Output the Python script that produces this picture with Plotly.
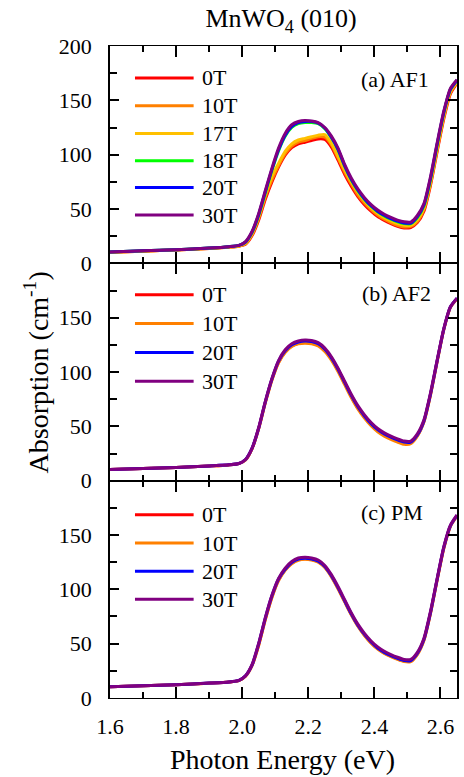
import plotly.graph_objects as go
from plotly.subplots import make_subplots

# ---------------- data ----------------
energy = [1.60, 1.70, 1.80, 1.90, 1.96, 1.99, 2.01, 2.03, 2.05, 2.07, 2.09, 2.11, 2.13,
          2.15, 2.17, 2.19, 2.21, 2.23, 2.25, 2.27, 2.29, 2.31, 2.33, 2.35, 2.37, 2.39,
          2.41, 2.43, 2.45, 2.47, 2.49, 2.51, 2.53, 2.55, 2.57, 2.59, 2.61, 2.63, 2.65]

# (a) AF1
a_0T = [10.2, 11.2, 12.3, 13.7, 14.9, 15.8, 17.5, 25.5, 40, 59, 75, 88.5, 99.5, 106.5, 110, 111.5,
        113, 114.5, 114, 107, 95, 82, 71, 61.5, 54, 48, 43, 39.5, 36.5, 34, 32.5, 33, 37.5, 48,
        72, 103, 133, 156, 166]
a_10T = [10.2, 11.2, 12.3, 13.7, 14.9, 15.9, 18, 26.5, 41.5, 61, 77, 90, 101, 108, 111.5, 113,
         115, 116.5, 116, 109, 97, 84, 73, 63, 55.5, 49.5, 44.5, 40.5, 37.5, 35, 33.5, 34, 38.5,
         49.5, 73.5, 104.5, 134.5, 157, 166.5]
a_17T = [10.3, 11.3, 12.4, 13.8, 15.0, 16.0, 18.5, 27.5, 43, 63, 80, 92, 103, 110, 113.5, 115,
         116.5, 118, 118.5, 110.5, 98.5, 86, 75, 65.5, 57.5, 51, 46, 42, 39, 36.5, 35, 35, 40,
         51, 75, 106, 136, 158, 167]
a_18T = [10.5, 11.5, 12.6, 14.0, 15.3, 16.5, 19.5, 28.5, 44.5, 65, 85.5, 103.5, 117, 125, 128.5,
         129.5, 129.5, 128.5, 124, 115.5, 104.5, 89.5, 77, 67, 59, 52.5, 47.5, 43.7, 40.7,
         38.3, 36.7, 36.5, 42, 53, 77.5, 109, 138.5, 160, 168.5]
a_20T = [10.5, 11.5, 12.6, 14.0, 15.3, 16.5, 19.5, 29, 45, 66, 86.5, 104.5, 118, 126, 129.5,
         130.5, 130.5, 129, 124.5, 116, 105, 90, 77.5, 67.5, 59.5, 53, 48, 44.2, 41.2, 38.8,
         37.2, 37, 43, 54, 78.5, 110, 139, 160, 168.5]
a_30T = [10.5, 11.5, 12.6, 14.0, 15.3, 16.5, 20, 29.5, 46, 67, 87.5, 106, 119.5, 127.5, 130.5,
         131.5, 131, 129.5, 125, 117, 106, 91, 78.5, 68.5, 60.5, 54, 49, 45.2, 42.2, 39.8, 38.2,
         38, 44, 55, 80, 111, 140, 161, 169]

# (b) AF2
b_0T = [10.2, 11.1, 12.1, 13.5, 14.5, 15.7, 19, 29.5, 48, 72, 93, 109, 118.5, 124, 126.5, 127.5,
        127, 125, 120, 112, 101.5, 89.5, 77.5, 67, 58.5, 51.5, 46, 42, 39, 36.5, 34.5, 35, 41.5,
        54.5, 79.5, 110, 139, 159.5, 167.5]
b_10T = [10.2, 11.1, 12.1, 13.5, 14.5, 15.7, 19, 29.5, 48, 71.5, 92.5, 108.5, 118, 123.5, 126,
         126.5, 126, 124, 119, 111, 100.5, 88.5, 76.5, 66, 57.5, 50.5, 45, 41, 38, 35.5, 33.5,
         34, 41, 54, 79, 109.5, 139, 159.5, 167.5]
b_20T = [10.3, 11.2, 12.2, 13.6, 14.6, 15.8, 19.5, 30, 48.5, 72.5, 93.5, 110, 119.5, 125, 127.5,
         128.5, 128, 126, 121, 113, 102.5, 90.5, 78.5, 68, 59.5, 52.5, 47, 43, 40, 37.5, 35.5,
         35.5, 42, 55, 80, 110.5, 139.5, 160, 168]
b_30T = [10.3, 11.2, 12.2, 13.6, 14.6, 15.8, 19.5, 30, 49, 73, 94, 110.5, 120.5, 126, 128.5,
         129.5, 129, 127, 122, 114, 103.5, 91.5, 79.5, 69, 60.5, 53.5, 48, 44, 41, 38.5, 36.5,
         36.5, 43, 56, 81, 111, 140, 160, 168]

# (c) PM
c_0T = [10.3, 11.2, 12.2, 13.6, 14.7, 16.0, 20, 30, 49, 72.5, 93, 108.5, 118, 124, 127.3, 128.1,
        127.4, 125.5, 120.5, 112, 101, 89, 77, 66.5, 58, 51, 45.5, 41.5, 38.5, 36, 34, 34, 40.5,
        53.5, 78.5, 109, 138, 158, 167.5]
c_10T = [10.3, 11.2, 12.2, 13.6, 14.7, 16.0, 20, 30, 48.5, 72, 92.5, 108, 117.5, 123.6, 126.8,
         127.6, 126.9, 125, 120, 111.5, 100.5, 88.5, 76.5, 66, 57.5, 50.5, 45, 41, 38, 35.5,
         33.5, 33.5, 40, 53, 78, 108.5, 137.5, 158, 167.5]
c_20T = [10.4, 11.3, 12.3, 13.7, 14.8, 16.3, 20.5, 30.5, 50, 73.5, 94, 109.5, 118.5, 124.6,
         127.8, 128.6, 127.9, 126, 121, 112.5, 101.6, 89.5, 77.5, 67, 58.5, 51.5, 46, 42, 39,
         36.5, 34.5, 34.5, 41, 54, 79, 109.5, 138.5, 158.5, 168]
c_30T = [10.4, 11.3, 12.3, 13.7, 14.8, 16.3, 20.5, 31, 50.4, 74, 94.5, 110, 119.5, 125.6, 128.8,
         129.6, 128.9, 127, 122, 113.5, 102.6, 90.5, 78.5, 68, 59.5, 52.5, 47, 43, 40, 37.5,
         35.5, 35.5, 42, 55, 80, 110, 139, 159, 168.5]

panel_labels = ["(a) AF1", "(b) AF2", "(c) PM"]
fields_a = ["0T", "10T", "17T", "18T", "20T", "30T"]
fields_bc = ["0T", "10T", "20T", "30T"]
series_a = [a_0T, a_10T, a_17T, a_18T, a_20T, a_30T]
series_b = [b_0T, b_10T, b_20T, b_30T]
series_c = [c_0T, c_10T, c_20T, c_30T]

colors_a = ["#FF0000", "#FF8000", "#FFC000", "#00FF00", "#0000FF", "#800080"]
colors_bc = ["#FF0000", "#FF8000", "#0000FF", "#800080"]

x_ticks = [1.6, 1.8, 2.0, 2.2, 2.4, 2.6]
y_ticks_top = [0, 50, 100, 150, 200]
y_ticks_low = [0, 50, 100, 150]

title_text = "MnWO<sub>4</sub> (010)"
x_title = "Photon Energy (eV)"
y_title = "Absorption (cm<sup>-1</sup>)"

# ---------------- figure ----------------
FONT = "Liberation Serif"
fig = make_subplots(rows=3, cols=1, shared_xaxes=True, vertical_spacing=0)

panels = [
    (series_a, fields_a, colors_a, y_ticks_top),
    (series_b, fields_bc, colors_bc, y_ticks_low),
    (series_c, fields_bc, colors_bc, y_ticks_low),
]
legend_y = [
    [0.853, 0.725, 0.597, 0.472, 0.349, 0.222],
    [0.856, 0.723, 0.590, 0.458],
    [0.843, 0.713, 0.583, 0.454],
]
label_pos = [(0.925, 0.845), (0.932, 0.862), (0.908, 0.855)]
x_line_w = [1.3, 1.0, 1.3]

for r, (series, fields, cols, yt) in enumerate(panels, start=1):
    for ys, name, col in zip(series, fields, cols):
        fig.add_trace(go.Scatter(x=energy, y=ys, mode="lines", name=name,
                                 line=dict(color=col, width=3, shape="spline", smoothing=0.6),
                                 showlegend=False),
                      row=r, col=1)
    xr = "x domain" if r == 1 else f"x{r} domain"
    yr = "y domain" if r == 1 else f"y{r} domain"
    for name, col, yy in zip(fields, cols, legend_y[r - 1]):
        fig.add_shape(type="line", xref=xr, yref=yr, x0=0.072, x1=0.241, y0=yy, y1=yy,
                      line=dict(color=col, width=3))
        fig.add_annotation(xref=xr, yref=yr, x=0.258, y=yy, text=name, showarrow=False,
                           xanchor="left", yanchor="middle",
                           font=dict(family=FONT, size=22, color="black"))
    lx, ly = label_pos[r - 1]
    fig.add_annotation(xref=xr, yref=yr, x=lx, y=ly, text=panel_labels[r - 1], showarrow=False,
                       xanchor="right", yanchor="middle",
                       font=dict(family=FONT, size=22, color="black"))
    fig.update_yaxes(range=[0, 200], tickmode="array", tickvals=yt,
                     ticks="inside", ticklen=9, tickwidth=1.5, tickcolor="black",
                     minor=dict(dtick=25, tick0=0, ticks="inside", ticklen=7, tickwidth=1.5,
                                tickcolor="black"),
                     showline=True, linecolor="black", linewidth=1.8, mirror="allticks",
                     showgrid=False, zeroline=False, ticklabelstandoff=12,
                     tickfont=dict(family=FONT, size=22, color="black"),
                     row=r, col=1)
    fig.update_xaxes(range=[1.6, 2.65], tickmode="array", tickvals=x_ticks,
                     ticktext=[f"{v:.1f}" for v in x_ticks],
                     ticks="inside", ticklen=11, tickwidth=1.5, tickcolor="black",
                     minor=dict(dtick=0.1, tick0=1.6, ticks="inside", ticklen=6, tickwidth=1.5,
                                tickcolor="black"),
                     showline=True, linecolor="black", linewidth=x_line_w[r - 1],
                     mirror="allticks",
                     showgrid=False, zeroline=False, ticklabelstandoff=8,
                     tickfont=dict(family=FONT, size=22, color="black"),
                     row=r, col=1)

fig.add_annotation(xref="paper", yref="paper", x=0.496, y=-0.095, text=x_title,
                   showarrow=False, xanchor="center", yanchor="middle",
                   font=dict(family=FONT, size=28, color="black"))
fig.add_annotation(xref="paper", yref="paper", x=-0.212, y=0.5, text=y_title, textangle=-90,
                   showarrow=False, xanchor="center", yanchor="middle",
                   font=dict(family=FONT, size=28, color="black"))

fig.update_layout(
    width=464, height=777,
    margin=dict(l=110, r=5, t=46, b=79),
    paper_bgcolor="white", plot_bgcolor="white",
    font=dict(family=FONT, color="black"),
    title=dict(text=title_text, x=0.493, xref="paper", xanchor="center",
               y=1 - 18 / 777, yanchor="middle",
               font=dict(family=FONT, size=26, color="black")),
    showlegend=False,
)

fig.write_html("out.html", config={"displayModeBar": False},
               post_script="document.body.style.margin='0';document.body.style.overflow='hidden';")
